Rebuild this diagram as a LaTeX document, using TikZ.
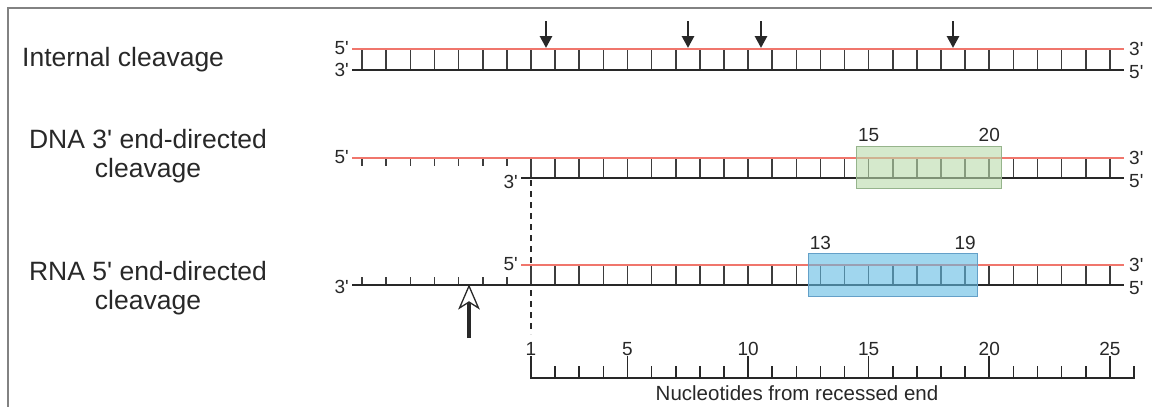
\documentclass[tikz,border=0pt]{standalone}
\usepackage{fontspec}
\setmainfont{Liberation Sans}[Ligatures=TeXOff]
\usetikzlibrary{arrows.meta}
\definecolor{strandred}{RGB}{240,118,108}
\definecolor{ink}{RGB}{40,40,40}
\definecolor{framegray}{RGB}{130,130,130}
\definecolor{gboxfill}{RGB}{185,218,170}
\definecolor{gboxedge}{RGB}{150,180,140}
\definecolor{bboxfill}{RGB}{97,187,227}
\definecolor{bboxedge}{RGB}{100,160,200}
\newcommand\nucx[1]{531+(#1-1)*24.12}
\begin{document}
\begin{tikzpicture}[x=1pt,y=-1pt,
  redstrand/.style={draw=strandred,line width=2.4pt},
  blackstrand/.style={draw=ink,line width=2.6pt},
  rungline/.style={draw=ink!90,line width=1.6pt},
  cutarrow/.style={draw=ink,line width=2.8pt,-{Triangle[length=12pt,width=12pt]}},
  biglbl/.style={text=ink,font=\fontsize{26.5}{29}\selectfont,align=center,inner sep=0pt},
  smalllbl/.style={text=ink,font=\fontsize{19}{22}\selectfont,inner sep=1pt},
  greenboxstyle/.style={draw=gboxedge,line width=1pt,fill=gboxfill,fill opacity=0.6,draw opacity=1,inner sep=0pt,minimum width=145.5pt,minimum height=42pt},
  blueboxstyle/.style={draw=bboxedge,line width=1pt,fill=bboxfill,fill opacity=0.6,draw opacity=1,inner sep=0pt,minimum width=169pt,minimum height=43pt}
]
\useasboundingbox (0,0) rectangle (1152,407);
% frame
\coordinate (fbl) at (8,407);
\coordinate (ftl) at (8,8);
\coordinate (ftr) at (1152,8);
\draw[framegray,line width=1.5pt] (fbl) -- (ftl) -- (ftr);

% left labels
\node[biglbl,anchor=base west] (lab1) at (22,66) {Internal cleavage};
\node[biglbl,anchor=base] (lab2) at (148,177) {DNA 3' end-directed\\cleavage};
\node[biglbl,anchor=base] (lab3) at (148,309) {RNA 5' end-directed\\cleavage};

% ---------- row 1 ----------
\foreach \n in {-6,...,25}
  \draw[rungline] ({\nucx{\n}},49) -- ({\nucx{\n}},70);
\coordinate (r1tl) at (352,49); \coordinate (r1tr) at (1124,49);
\coordinate (r1bl) at (352,70); \coordinate (r1br) at (1124,70);
\draw[redstrand] (r1tl) -- (r1tr);
\draw[blackstrand] (r1bl) -- (r1br);
\node[smalllbl,anchor=east] (r1a) at (350,48) {5'};
\node[smalllbl,anchor=east] (r1b) at (350,70) {3'};
\node[smalllbl,anchor=west] (r1c) at (1128,49) {3'};
\node[smalllbl,anchor=west] (r1d) at (1128,72) {5'};
\foreach \xx/\nm in {546/aa,688/ab,761/ac,953/ad}{
  \coordinate (\nm s) at (\xx,21);
  \coordinate (\nm t) at (\xx,48);
  \draw[cutarrow] (\nm s) -- (\nm t);
}

% ---------- row 2 ----------
\foreach \n in {1,...,25}
  \draw[rungline] ({\nucx{\n}},158) -- ({\nucx{\n}},178);
\foreach \n in {-6,...,0}
  \draw[rungline] ({\nucx{\n}},158) -- ({\nucx{\n}},166);
\coordinate (r2tl) at (352,158); \coordinate (r2tr) at (1124,158);
\coordinate (r2bl) at (521,178); \coordinate (r2br) at (1124,178);
\draw[redstrand] (r2tl) -- (r2tr);
\draw[blackstrand] (r2bl) -- (r2br);
\node[smalllbl,anchor=east] (r2a) at (350,157) {5'};
\node[smalllbl,anchor=east] (r2b) at (519,182) {3'};
\node[smalllbl,anchor=west] (r2c) at (1128,158) {3'};
\node[smalllbl,anchor=west] (r2d) at (1128,181) {5'};
\node[greenboxstyle] (gbox) at (929,167) {};
\node[smalllbl,anchor=base] (g15) at ({\nucx{15}},141) {15};
\node[smalllbl,anchor=base] (g20) at ({\nucx{20}},141) {20};

% dashed guide
\coordinate (dtop) at ({\nucx{1}},180);
\coordinate (dbot) at ({\nucx{1}},334);
\draw[ink,line width=1.4pt,dash pattern=on 6pt off 5pt] (dtop) -- (dbot);

% ---------- row 3 ----------
\foreach \n in {1,...,25}
  \draw[rungline] ({\nucx{\n}},265) -- ({\nucx{\n}},285);
\foreach \n in {-6,...,0}
  \draw[rungline] ({\nucx{\n}},285) -- ({\nucx{\n}},277);
\coordinate (r3tl) at (521,265); \coordinate (r3tr) at (1124,265);
\coordinate (r3bl) at (352,285); \coordinate (r3br) at (1124,285);
\draw[redstrand] (r3tl) -- (r3tr);
\draw[blackstrand] (r3bl) -- (r3br);
\node[smalllbl,anchor=east] (r3a) at (519,264) {5'};
\node[smalllbl,anchor=east] (r3b) at (350,287) {3'};
\node[smalllbl,anchor=west] (r3c) at (1128,265) {3'};
\node[smalllbl,anchor=west] (r3d) at (1128,288) {5'};
\node[blueboxstyle] (bbox) at (892.8,274.5) {};
\node[smalllbl,anchor=base] (b13) at ({\nucx{13}},249) {13};
\node[smalllbl,anchor=base] (b19) at ({\nucx{19}},249) {19};

% open arrow
\coordinate (oatip) at (469,286);
\coordinate (oanotch) at (469,301);
\coordinate (oabot) at (469,338);
\draw[ink,line width=3.2pt] (oabot) -- (oanotch);
\draw[ink,fill=white,line width=1.3pt,line join=miter] (oatip) -- ++(-9.5,22) -- ++(9.5,-6) -- ++(9.5,6) -- cycle;

% ---------- axis ----------
\coordinate (axl) at ({\nucx{1}},378);
\coordinate (axr) at ({\nucx{26}},378);
\draw[ink,line width=2.4pt] (axl) -- (axr);
\foreach \n in {1,...,26}{
  \ifnum\n=1 \def\th{356}\else\ifnum\n=5 \def\th{356}\else\ifnum\n=10 \def\th{356}\else\ifnum\n=15 \def\th{356}\else\ifnum\n=20 \def\th{356}\else\ifnum\n=25 \def\th{356}\else\def\th{366}\fi\fi\fi\fi\fi\fi
  \draw[ink,line width=1.6pt] ({\nucx{\n}},379) -- ({\nucx{\n}},\th);
}
\foreach \n in {1,5,10,15,20,25}
  \node[smalllbl,anchor=base] (ax\n) at ({\nucx{\n}},355) {\n};
\node[smalllbl,anchor=base,font=\fontsize{20.5}{23}\selectfont] (axtitle) at (797,400) {Nucleotides from recessed end};
\end{tikzpicture}
\end{document}
